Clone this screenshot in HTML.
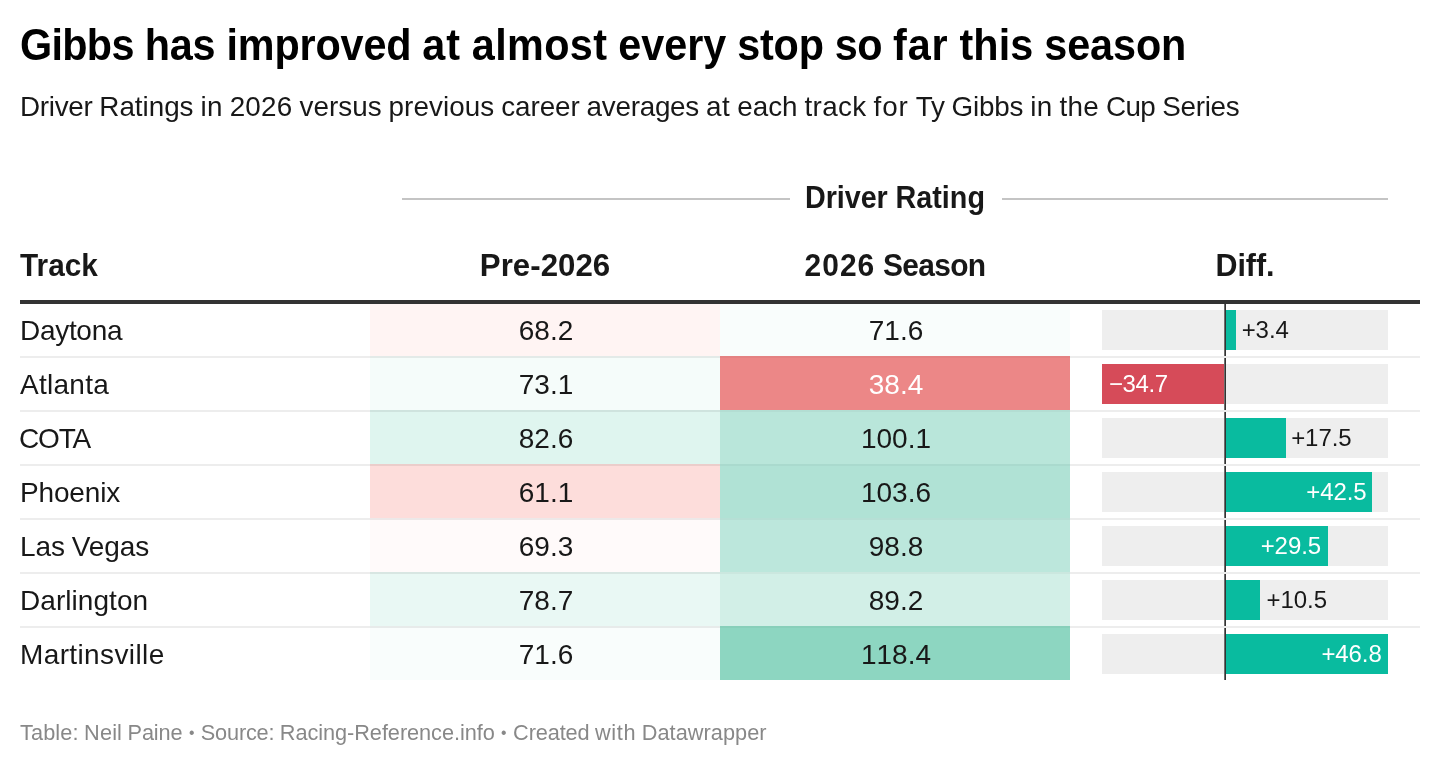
<!DOCTYPE html>
<html lang="en"><head><meta charset="utf-8"><title>Gibbs has improved at almost every stop so far this season</title>
<style>
html,body{margin:0;padding:0;background:#fff;}
body{width:1440px;height:766px;position:relative;overflow:hidden;font-family:"Liberation Sans",sans-serif;color:#181818;}
.abs{position:absolute;white-space:nowrap;}
h1{margin:0;font-weight:700;font-size:45px;line-height:45px;left:20px;top:22.1px;color:#000;transform-origin:0 0;}
p.sub{margin:0;font-size:28px;line-height:28px;left:20px;top:92.8px;transform-origin:0 0;}
table{position:absolute;left:20px;top:160px;width:1400px;table-layout:fixed;border-collapse:separate;border-spacing:0;}
th,td{padding:0;margin:0;position:relative;box-sizing:border-box;vertical-align:top;white-space:nowrap;font-weight:400;}
tr.g th{height:70px;}
tr.h th{height:74px;border-bottom:4px solid #333;}
.grp{position:absolute;left:350px;width:350px;top:23.1px;font-weight:700;font-size:30.8px;line-height:30px;text-align:center;}
.gline{position:absolute;height:2px;background:#c4c4c4;top:38px;}
.ht{position:absolute;left:0;width:350px;top:20.6px;font-weight:700;font-size:30.8px;line-height:30px;text-align:center;}
tbody td{height:54px;padding-top:4px;line-height:50px;font-size:28px;text-align:center;box-shadow:inset 0 2px 0 rgba(0,0,0,0.07);}
tbody tr.first td{height:52px;padding-top:2px;box-shadow:none;}
tbody td.n{text-align:left;}
tbody td.v span{position:relative;left:1px;font-kerning:none;letter-spacing:0.03px;}
tbody td.s{box-shadow:inset 0 2px 0 rgba(0,0,0,0.03);}
.bg{position:absolute;left:32px;top:8px;width:286px;height:40px;background:#eee;}
.bar{position:absolute;top:8px;height:40px;}
.lab{position:absolute;top:8px;height:40px;line-height:40px;font-size:24px;letter-spacing:-0.08px;font-kerning:none;}
tr.first .bg,tr.first .bar,tr.first .lab{top:6px;}
.ax{position:absolute;left:154px;width:2px;top:2px;bottom:0;background:linear-gradient(90deg,#6e6e6e 0,#6e6e6e 1px,#333 1px,#333 2px);}
tr.first .ax{top:0;}
.foot{font-size:22px;line-height:22px;left:20px;top:721.8px;color:#888;transform-origin:0 0;}
</style></head>
<body>
<h1 class="abs" style="transform:scaleX(0.9185);word-spacing:-0.59px"><span style="letter-spacing:-0.74px">Gibbs</span> <span style="letter-spacing:-0.16px">has</span> <span style="letter-spacing:-0.14px">improved</span> <span style="letter-spacing:0.92px">at</span> <span style="letter-spacing:0.44px">almost</span> <span style="letter-spacing:-0.03px">every</span> <span style="letter-spacing:-0.20px">stop</span> <span style="letter-spacing:-0.43px">so</span> <span style="letter-spacing:0.94px">far</span> <span style="letter-spacing:0.08px">this</span> <span style="letter-spacing:-0.08px">season</span></h1>
<p class="abs sub" style="transform:scaleX(0.9938);word-spacing:-0.80px"><span style="letter-spacing:-0.30px">Driver</span> <span style="letter-spacing:-0.04px">Ratings</span> <span style="letter-spacing:0.32px">in</span> <span style="letter-spacing:0.26px">2026</span> <span style="letter-spacing:0.02px">versus</span> <span style="letter-spacing:0.08px">previous</span> <span style="letter-spacing:-0.10px">career</span> <span style="letter-spacing:-0.25px">averages</span> <span style="letter-spacing:0.60px">at</span> <span style="letter-spacing:-0.05px">each</span> <span style="letter-spacing:0.38px">track</span> <span style="letter-spacing:0.91px">for</span> <span style="letter-spacing:-0.20px">Ty</span> <span style="letter-spacing:-0.19px">Gibbs</span> <span style="letter-spacing:0.31px">in</span> <span style="letter-spacing:0.25px">the</span> <span style="letter-spacing:-0.56px">Cup</span> <span style="letter-spacing:-0.30px">Series</span></p>
<table>
<colgroup><col style="width:350px"><col style="width:350px"><col style="width:350px"><col style="width:350px"></colgroup>
<thead>
<tr class="g"><th></th><th colspan="3"><div class="gline" style="left:32px;width:388px"></div><div class="grp" style="transform:scaleX(0.9328);word-spacing:-0.37px"><span style="letter-spacing:-0.05px">Driver</span> <span style="letter-spacing:0.05px">Rating</span></div><div class="gline" style="left:632px;width:386px"></div></th></tr>
<tr class="h">
<th><div class="ht" style="text-align:left;transform:scaleX(0.9668);transform-origin:0 0;word-spacing:0.00px"><span style="letter-spacing:0.00px">Track</span></div></th>
<th><div class="ht" style="text-align:center;transform:scaleX(1.0146);transform-origin:50% 0;word-spacing:0.00px"><span style="letter-spacing:0.00px">Pre-2026</span></div></th>
<th><div class="ht" style="text-align:center;transform:scaleX(0.9728);transform-origin:50% 0;word-spacing:-0.69px"><span style="letter-spacing:1.04px">2026</span> <span style="letter-spacing:-0.69px">Season</span></div></th>
<th><div class="ht" style="text-align:center;transform:scaleX(0.9880);transform-origin:50% 0;word-spacing:0.00px"><span style="letter-spacing:0.00px">Diff.</span></div></th>
</tr>
</thead>
<tbody>
<tr class="first"><td class="n" style="word-spacing:0.00px"><span style="letter-spacing:-0.30px">Daytona</span></td><td class="v" style="background:#fff4f3"><span>68.2</span></td><td class="v s" style="background:#f9fdfc;"><span>71.6</span></td><td class="d"><div class="bg"></div><div class="bar" style="left:153.8px;width:12.2px;background:#09bb9f"></div><div class="lab" style="left:171.7px;">+3.4</div><div class="ax"></div></td></tr>
<tr><td class="n" style="word-spacing:0.00px"><span style="letter-spacing:0.27px">Atlanta</span></td><td class="v" style="background:#f5fcfa"><span>73.1</span></td><td class="v s" style="background:#ec8787;color:#fff;"><span>38.4</span></td><td class="d"><div class="bg"></div><div class="bar" style="left:32.0px;width:122.0px;background:#d64b59"></div><div class="lab" style="left:39.0px;color:#fff;letter-spacing:-0.4px;">−34.7</div><div class="ax"></div></td></tr>
<tr><td class="n" style="word-spacing:0.00px;text-indent:-1px"><span style="letter-spacing:-1.17px">COTA</span></td><td class="v" style="background:#dff5ef"><span>82.6</span></td><td class="v s" style="background:#b9e6da;"><span>100.1</span></td><td class="d"><div class="bg"></div><div class="bar" style="left:153.8px;width:62.2px;background:#09bb9f"></div><div class="lab" style="left:221.2px;">+17.5</div><div class="ax"></div></td></tr>
<tr><td class="n" style="word-spacing:0.00px"><span style="letter-spacing:-0.16px">Phoenix</span></td><td class="v" style="background:#fddddb"><span>61.1</span></td><td class="v s" style="background:#b0e2d5;"><span>103.6</span></td><td class="d"><div class="bg"></div><div class="bar" style="left:153.8px;width:148.2px;background:#09bb9f"></div><div class="lab" style="right:53.4px;color:#fff;">+42.5</div><div class="ax"></div></td></tr>
<tr><td class="n" style="word-spacing:-0.83px"><span style="letter-spacing:-0.13px">Las</span> <span style="letter-spacing:-0.07px">Vegas</span></td><td class="v" style="background:#fffafa"><span>69.3</span></td><td class="v s" style="background:#bce7dc;"><span>98.8</span></td><td class="d"><div class="bg"></div><div class="bar" style="left:153.8px;width:104.2px;background:#09bb9f"></div><div class="lab" style="right:99.0px;color:#fff;">+29.5</div><div class="ax"></div></td></tr>
<tr><td class="n" style="word-spacing:0.00px"><span style="letter-spacing:0.06px">Darlington</span></td><td class="v" style="background:#e9f8f4"><span>78.7</span></td><td class="v s" style="background:#d2efe7;"><span>89.2</span></td><td class="d"><div class="bg"></div><div class="bar" style="left:153.8px;width:36.2px;background:#09bb9f"></div><div class="lab" style="left:196.6px;">+10.5</div><div class="ax"></div></td></tr>
<tr><td class="n" style="word-spacing:0.00px"><span style="letter-spacing:0.38px">Martinsville</span></td><td class="v" style="background:#f9fdfc"><span>71.6</span></td><td class="v s" style="background:#8dd6c1;"><span>118.4</span></td><td class="d"><div class="bg"></div><div class="bar" style="left:153.8px;width:164.2px;background:#09bb9f"></div><div class="lab" style="right:38.3px;color:#fff;">+46.8</div><div class="ax"></div></td></tr>
</tbody>
</table>
<div class="abs foot" style="transform:scaleX(0.9874);word-spacing:-0.57px"><span style="letter-spacing:0.10px">Table:</span> <span style="letter-spacing:0.16px">Neil</span> <span style="letter-spacing:-0.14px">Paine</span> <span style="letter-spacing:-0.19px;display:inline-block;transform:scale(0.72)">•</span> <span style="letter-spacing:-0.20px">Source:</span> <span style="letter-spacing:-0.06px">Racing-Reference.info</span> <span style="letter-spacing:-0.19px;display:inline-block;transform:scale(0.72)">•</span> <span style="letter-spacing:-0.12px">Created</span> <span style="letter-spacing:0.65px">with</span> <span style="letter-spacing:0.05px">Datawrapper</span></div>
</body></html>
